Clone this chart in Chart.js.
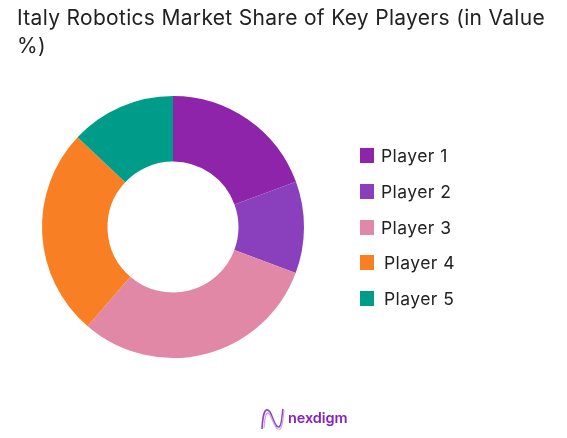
<!DOCTYPE html>
<html>
<head>
<meta charset="utf-8">
<script src="https://cdn.jsdelivr.net/npm/chart.js@4"></script>
<style>
  html, body { margin: 0; padding: 0; background: #fff; }
  #wrap { position: relative; width: 567px; height: 438px; overflow: hidden; font-family: Inter, sans-serif; color: #222; }
  #chart { position: absolute; left: 0; top: 0; }
  #title { position: absolute; left: 17px; top: 4px; width: 540px; font-size: 21px; line-height: 28px; font-weight: 400; letter-spacing: 0.31px; }
  .leg { position: absolute; font-size: 17.5px; line-height: 20px; letter-spacing: 0.42px; white-space: nowrap; }
  .leg i { position: absolute; top: 2px; width: 14px; height: 15px; }
  #logo { position: absolute; left: 260px; top: 406px; width: 90px; height: 26px; }
  #logo span { position: absolute; left: 28px; top: 3px; font-size: 14.5px; font-weight: 600; color: #8424b8; letter-spacing: -0.1px; }
</style>
</head>
<body>
<div id="wrap">
  <canvas id="chart" width="567" height="438"></canvas>
  <div id="title">Italy Robotics Market Share of Key Players (in Value %)</div>
  <div id="legend"></div>
  <div id="logo">
    <svg width="26" height="26" viewBox="0 0 26 26" fill="none">
      <path d="M2 23 C3 4 6 1 10 6 C13 11 15 22 19 21 C22 20 22 8 23 3" stroke="#8e44c8" stroke-width="1.6"/>
      <path d="M4 22 C5 8 7 4 10 9 C13 15 16 25 20 23 C23 21 23 10 24 4" stroke="#c9a3e8" stroke-width="1.2"/>
    </svg>
    <span>nexdigm</span>
  </div>
</div>
<script>
// ── Data ──
const players = ['Player 1', 'Player 2', 'Player 3', 'Player 4', 'Player 5'];
const shares = [19.4, 11.3, 30.6, 25.7, 13];
const colors = ['#8E24AA', '#8A3FBC', '#E088A5', '#F97F25', '#009C8A'];

new Chart(document.getElementById('chart'), {
  type: 'doughnut',
  data: {
    labels: players,
    datasets: [{ data: shares, backgroundColor: colors, borderWidth: 0 }]
  },
  options: {
    responsive: false,
    animation: false,
    cutout: '50%',
    layout: { padding: { left: 42, right: 263, top: 96, bottom: 80 } },
    plugins: { legend: { display: false }, tooltip: { enabled: false } }
  }
});

// Legend is hand placed, rows 4 and 5 sit a bit further right in the original
const legendX = [381, 381, 381, 384, 384];
const legendY = [146, 182, 218, 253, 289];
const legend = document.getElementById('legend');
players.forEach((p, i) => {
  const row = document.createElement('div');
  row.className = 'leg';
  row.style.left = legendX[i] + 'px';
  row.style.top = legendY[i] + 'px';
  const box = document.createElement('i');
  box.style.background = colors[i];
  box.style.left = (360 - legendX[i]) + 'px';
  row.appendChild(box);
  row.appendChild(document.createTextNode(p));
  legend.appendChild(row);
});
</script>
</body>
</html>
